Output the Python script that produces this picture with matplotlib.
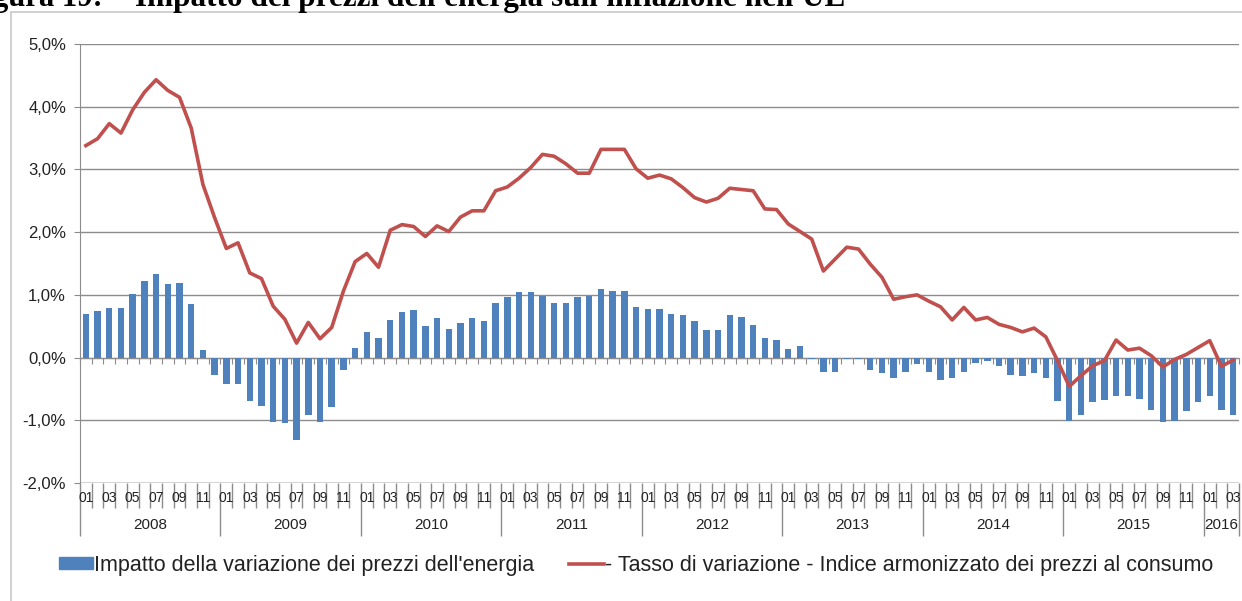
import matplotlib.pyplot as plt
import numpy as np
from matplotlib.patches import Rectangle, Patch
from matplotlib.lines import Line2D
from matplotlib.ticker import FuncFormatter

# dati mensili 2008-01 ... 2016-03
years = ['2008', '2009', '2010', '2011', '2012', '2013', '2014', '2015', '2016']

impatto_energia = [
    0.69, 0.74, 0.79, 0.79, 1.02, 1.22, 1.34, 1.17, 1.19, 0.85, 0.12, -0.27,
    -0.42, -0.42, -0.70, -0.77, -1.02, -1.05, -1.31, -0.91, -1.02, -0.79, -0.20, 0.16,
    0.40, 0.31, 0.60, 0.73, 0.76, 0.50, 0.63, 0.46, 0.55, 0.63, 0.59, 0.87,
    0.96, 1.04, 1.04, 0.98, 0.87, 0.87, 0.96, 0.98, 1.09, 1.06, 1.06, 0.80,
    0.78, 0.78, 0.69, 0.68, 0.59, 0.44, 0.44, 0.68, 0.65, 0.52, 0.31, 0.28,
    0.13, 0.18, -0.03, -0.23, -0.23, -0.03, -0.03, -0.20, -0.25, -0.32, -0.23, -0.10,
    -0.23, -0.36, -0.32, -0.23, -0.08, -0.05, -0.14, -0.27, -0.29, -0.25, -0.32, -0.70,
    -1.01, -0.92, -0.71, -0.68, -0.62, -0.62, -0.66, -0.83, -1.02, -1.01, -0.85, -0.71,
    -0.62, -0.83, -0.92,
]

hicp = [
    3.38, 3.49, 3.73, 3.58, 3.95, 4.23, 4.43, 4.26, 4.15, 3.66, 2.76, 2.23,
    1.74, 1.83, 1.35, 1.26, 0.82, 0.61, 0.23, 0.56, 0.30, 0.48, 1.06, 1.53,
    1.66, 1.44, 2.03, 2.12, 2.09, 1.93, 2.10, 2.01, 2.24, 2.34, 2.34, 2.66,
    2.72, 2.86, 3.03, 3.24, 3.21, 3.09, 2.94, 2.94, 3.32, 3.32, 3.32, 3.01,
    2.86, 2.91, 2.85, 2.71, 2.55, 2.48, 2.54, 2.70, 2.68, 2.66, 2.37, 2.36,
    2.13, 2.01, 1.89, 1.38, 1.57, 1.76, 1.73, 1.49, 1.28, 0.93, 0.97, 1.00,
    0.90, 0.81, 0.60, 0.80, 0.60, 0.64, 0.53, 0.48, 0.41, 0.47, 0.33, -0.05,
    -0.46, -0.29, -0.13, -0.05, 0.28, 0.12, 0.15, 0.03, -0.15, -0.03, 0.05, 0.16,
    0.27, -0.14, -0.04,
]

n = len(hicp)
x = np.arange(n)
months = [(i % 12) + 1 for i in range(n)]

plt.rcParams['font.family'] = ['Liberation Sans', 'DejaVu Sans']
grey = '#8c8c8c'

fig = plt.figure(figsize=(12.42, 6.01), dpi=100)
ax = fig.add_axes([80/1242, 1-483/601, (1239-80)/1242, (483-44)/601])

# cornice del grafico
fig.patches.append(Rectangle((11/1242, -0.1), 1.2, 1-12/601+0.1, transform=fig.transFigure,
                             fill=False, edgecolor='#c8c8c8', lw=1.2))

ax.bar(x, impatto_energia, width=0.55, color='#4f81bd', zorder=2)
ax.plot(x, hicp, color='#c0504d', lw=2.6, zorder=3, solid_joinstyle='round')

ax.set_xlim(-0.5, n - 0.5)
ax.set_ylim(-2, 5)
ax.set_yticks(np.arange(-2, 5.1, 1))
ax.yaxis.set_major_formatter(FuncFormatter(lambda v, p: f'{v:.1f}%'.replace('.', ',')))
ax.tick_params(axis='y', length=4, color=grey, labelsize=12, pad=6, labelcolor='#222222')
ax.grid(axis='y', color=grey, lw=1.0, zorder=0)

for s in ['top', 'right', 'bottom']:
    ax.spines[s].set_visible(False)
ax.spines['left'].set_color(grey)

# asse categorie in basso: tacche mensili e separatori annuali
bounds = np.arange(n + 1) - 0.5
year_bounds = [b for i, b in enumerate(bounds) if i % 12 == 0] + [bounds[-1]]
ax.set_xticks(year_bounds)
ax.set_xticks(bounds, minor=True)
ax.tick_params(axis='x', which='major', length=38, color=grey, width=1.0, labelbottom=False)
ax.tick_params(axis='x', which='minor', length=18, color=grey, width=1.0)
ax.axhline(-2, color=grey, lw=1.0, zorder=1)

# asse a quota 0 con piccole tacche
sec = ax.secondary_xaxis(2/7)
sec.set_xticks(bounds)
sec.tick_params(length=4, color=grey, labelbottom=False)
sec.spines['bottom'].set_color(grey)

for i in range(n):
    if months[i] % 2 == 1:
        ax.text(x[i], -0.018, f'{months[i]:02d}', transform=ax.get_xaxis_transform(),
                ha='center', va='top', fontsize=10, color='#222222',
                family=['Liberation Sans Narrow', 'Liberation Sans'])

for k, yr in enumerate(years):
    start = k * 12
    end = min(start + 12, n)
    ax.text((start + end - 1) / 2, -0.08, yr, transform=ax.get_xaxis_transform(),
            ha='center', va='top', fontsize=11, color='#222222')

# titolo (tagliato in alto)
fig.text(103/1242, 1-6/601, 'Figura 19:', family='Liberation Serif', weight='bold',
         fontsize=22, va='baseline', ha='right')
fig.text(135/1242, 1-6/601, "Impatto dei prezzi dell'energia sull'inflazione nell'UE",
         family='Liberation Serif', weight='bold', fontsize=22.5, va='baseline', ha='left')

handles = [Patch(color='#4f81bd'), Line2D([], [], color='#c0504d', lw=2.6)]
labels = ["Impatto della variazione dei prezzi dell'energia",
          "- Tasso di variazione - Indice armonizzato dei prezzi al consumo"]
fig.legend(handles, labels, loc='center', bbox_to_anchor=(0.512, 1-565/601), ncol=2,
           frameon=False, fontsize=15.5, handlelength=1.6, handleheight=0.5,
           handletextpad=0.05, columnspacing=1.6, labelcolor='#222222')

fig.savefig('out.png', dpi=100)
